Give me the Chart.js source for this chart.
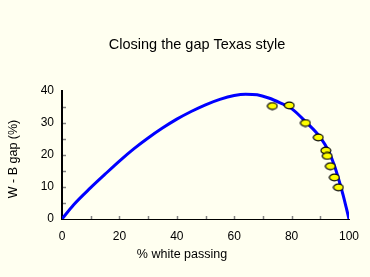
<!DOCTYPE html>
<html>
<head>
<meta charset="utf-8">
<script src="https://cdn.jsdelivr.net/npm/chart.js@4.4.1/dist/chart.umd.min.js"></script>
<style>
  html, body { margin: 0; padding: 0; background: #FFFFF0; }
  #wrap { width: 370px; height: 277px; }
</style>
</head>
<body>
<div id="wrap"><canvas id="c" width="370" height="277"></canvas></div>
<script>
// ---- data ----
const titleText = "Closing the gap Texas style";
const xTitle = "% white passing";
const yTitle = "W - B gap (%)";

const curveX = [0, 4, 10, 15, 20, 25, 30, 35, 40, 45, 50, 55, 60, 64, 68, 72, 76, 80, 85, 90, 93, 95, 96.5, 98, 99, 100];
const curveY = [0, 4.4, 9.8, 14, 18.1, 21.9, 25.3, 28.4, 31.2, 33.6, 35.7, 37.4, 38.6, 39.0, 38.8, 37.8, 36.3, 34.5, 30.3, 25.5, 21.0, 16.5, 12.1, 7.3, 3.7, 0];

const pointsX = [73.3, 79.2, 84.8, 89.3, 91.9, 92.4, 93.5, 94.9, 96.3];
const pointsY = [35.3, 35.5, 30.0, 25.5, 21.4, 19.7, 16.5, 13.0, 9.9];

const xTicksMajor = [0, 20, 40, 60, 80, 100];
const xTicksMinor = [10, 20, 30, 40, 50, 60, 70, 80, 90];
const yTicksMinor = [5, 10, 15, 20, 25, 30, 35];

// ---- marker image (yellow ellipse with dark outline) ----
const mk = document.createElement('canvas');
mk.width = 12; mk.height = 9;
(function () {
  const g = mk.getContext('2d');
  g.beginPath();
  g.ellipse(6, 4.5, 4.9, 3.3, 0, 0, Math.PI * 2);
  g.fillStyle = '#FFFF00';
  g.fill();
  g.lineWidth = 1.2;
  g.strokeStyle = '#000000';
  g.stroke();
})();

const FONT = '"Liberation Sans", Arial, sans-serif';

const decor = {
  id: 'decor',
  beforeDraw(chart) {
    const ctx = chart.ctx;
    ctx.save();
    ctx.fillStyle = '#FFFFF0';
    ctx.fillRect(0, 0, chart.width, chart.height);
    ctx.restore();
  },
  afterDraw(chart) {
    const ctx = chart.ctx;
    const xs = chart.scales.x, ys = chart.scales.y;
    const a = chart.chartArea;
    ctx.save();
    // inward minor ticks
    ctx.strokeStyle = '#808080';
    ctx.lineWidth = 1.5;
    xTicksMinor.forEach(v => {
      const px = Math.round(xs.getPixelForValue(v)) + 0.5;
      ctx.beginPath(); ctx.moveTo(px, a.bottom); ctx.lineTo(px, a.bottom - 3); ctx.stroke();
    });
    yTicksMinor.forEach(v => {
      const py = Math.round(ys.getPixelForValue(v)) + 0.5;
      ctx.beginPath(); ctx.moveTo(a.left + 1, py); ctx.lineTo(a.left + 4, py); ctx.stroke();
    });
    // texts
    ctx.fillStyle = '#000000';
    ctx.textAlign = 'center';
    ctx.textBaseline = 'middle';
    ctx.font = '14.5px ' + FONT;
    ctx.fillText(titleText, 197, 45);
    ctx.font = '12.5px ' + FONT;
    ctx.fillText(xTitle, 182, 255);
    ctx.translate(14, 159);
    ctx.rotate(-Math.PI / 2);
    ctx.fillText(yTitle, 0, 0);
    ctx.restore();
  }
};

const curveData = curveX.map((x, i) => ({ x: x, y: curveY[i] }));
const pointData = pointsX.map((x, i) => ({ x: x, y: pointsY[i] }));

new Chart(document.getElementById('c'), {
  type: 'scatter',
  data: {
    datasets: [
      {
        data: pointData,
        pointStyle: mk,
        pointRadius: 5,
        order: 0
      },
      {
        data: curveData,
        showLine: true,
        borderColor: '#0000FF',
        borderWidth: 3,
        pointRadius: 0,
        cubicInterpolationMode: 'monotone',
        order: 1
      }
    ]
  },
  options: {
    responsive: false,
    animation: false,
    events: [],
    layout: { padding: { top: 91, right: 21, left: 0, bottom: 0 } },
    plugins: { legend: { display: false }, tooltip: { enabled: false }, title: { display: false } },
    scales: {
      x: {
        type: 'linear', min: 0, max: 100,
        afterFit(s) { s.height = 58; },
        afterBuildTicks(s) { s.ticks = xTicksMajor.map(v => ({ value: v })); },
        grid: { display: false, drawTicks: false },
        border: { display: true, color: '#000000', width: 1 },
        ticks: { color: '#000000', padding: 10, font: { family: FONT, size: 12 }, maxRotation: 0 }
      },
      y: {
        type: 'linear', min: 0, max: 40,
        afterFit(s) { s.width = 62; },
        ticks: { stepSize: 10, color: '#000000', padding: 8, font: { family: FONT, size: 12 } },
        grid: { display: false, drawTicks: false },
        border: { display: true, color: '#000000', width: 2 }
      }
    }
  },
  plugins: [decor]
});
</script>
</body>
</html>
